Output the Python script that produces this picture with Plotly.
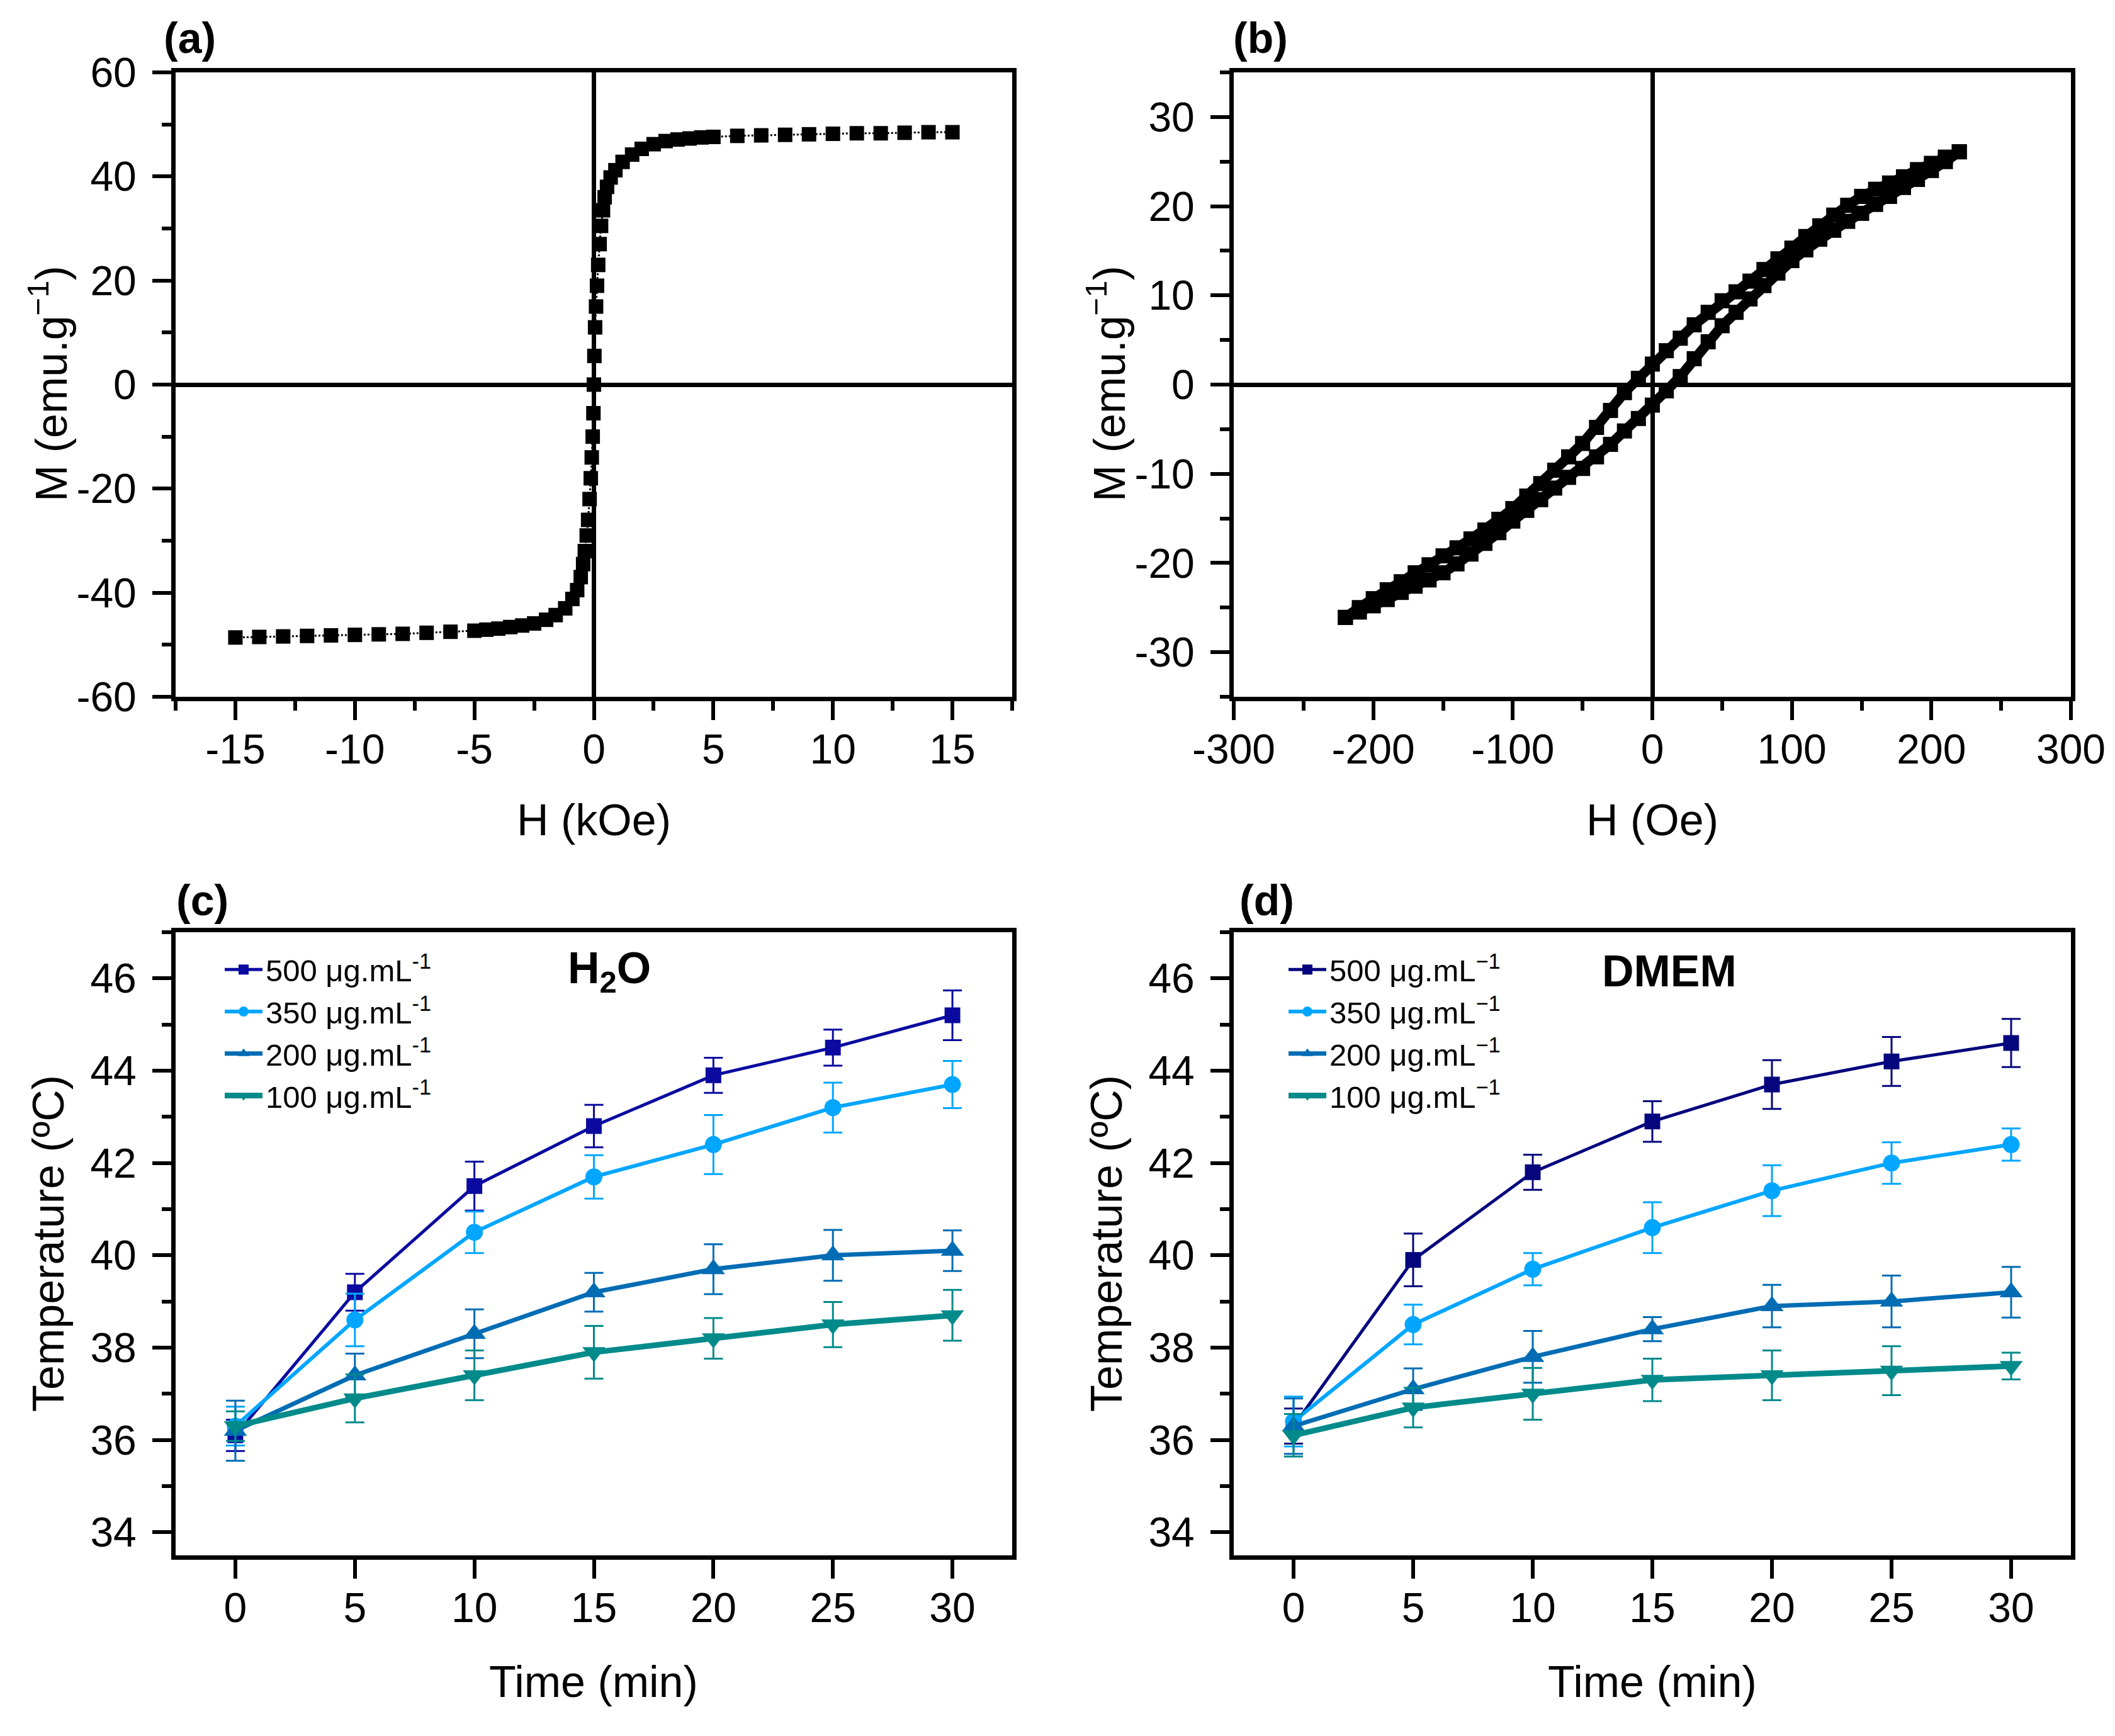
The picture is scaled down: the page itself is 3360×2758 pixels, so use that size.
import plotly.graph_objects as go

# --- data (a): M-H loop at room temperature, field in kOe ---
H_a = [-15, -14, -13, -12, -11, -10, -9, -8, -7, -6, -5, -4.5, -4, -3.5, -3, -2.5, -2, -1.6, -1.2,
       -0.9, -0.7, -0.55, -0.45, -0.38, -0.3, -0.24, -0.18, -0.13, -0.09, -0.05, -0.02, 0,
       0.02, 0.05, 0.09, 0.13, 0.18, 0.24, 0.3, 0.38, 0.45, 0.55, 0.7, 0.9, 1.2, 1.6, 2, 2.5,
       3, 3.5, 4, 4.5, 5, 6, 7, 8, 9, 10, 11, 12, 13, 14, 15]
M_a = [-48.6, -48.5, -48.4, -48.3, -48.2, -48.1, -48.0, -47.9, -47.7, -47.5, -47.3, -47.1, -46.9,
       -46.6, -46.3, -45.9, -45.2, -44.3, -43.0, -41.2, -39.5, -37.0, -34.5, -32.0, -29.0, -26.0,
       -22.0, -18.0, -14.0, -10.0, -5.5, 0.0,
       5.5, 11.0, 15.0, 19.0, 23.0, 27.0, 30.5, 33.5, 36.0, 38.0, 39.8, 41.2, 42.8, 44.2, 45.3,
       46.2, 46.8, 47.1, 47.3, 47.5, 47.6, 47.8, 47.9, 48.0, 48.1, 48.2, 48.3, 48.3, 48.4, 48.5, 48.5]

# --- data (b): minor loop, field in Oe ---
H_b_down = [220, 210, 200, 190, 180, 170, 160, 150, 140, 130, 120, 110, 100, 90, 80, 70, 60, 50,
            40, 30, 20, 10, 0, -10, -20, -30, -40, -50, -60, -70, -80, -90, -100, -110, -120,
            -130, -140, -150, -160, -170, -180, -190, -200, -210, -220]
M_b_down = [26.1, 25.5, 24.8, 24.1, 23.3, 22.6, 21.9, 21.1, 20.1, 19.0, 17.8, 16.6, 15.3, 14.1,
            12.9, 11.6, 10.4, 9.4, 8.1, 6.7, 5.2, 3.8, 2.3, 0.7, -0.9, -2.9, -4.8, -6.6, -8.1,
            -9.6, -11.1, -12.5, -13.9, -15.1, -16.3, -17.3, -18.3, -19.2, -20.2, -21.1, -22.1,
            -23.0, -24.0, -25.0, -26.1]
H_b_up = [-220, -210, -200, -190, -180, -170, -160, -150, -140, -130, -120, -110, -100, -90, -80,
          -70, -60, -50, -40, -30, -20, -10, 0, 10, 20, 30, 40, 50, 60, 70, 80, 90, 100, 110,
          120, 130, 140, 150, 160, 170, 180, 190, 200, 210, 220]
M_b_up = [-26.1, -25.5, -24.8, -24.1, -23.3, -22.6, -21.9, -21.1, -20.1, -19.0, -17.8, -16.6,
          -15.3, -14.1, -12.9, -11.6, -10.4, -9.4, -8.1, -6.7, -5.2, -3.8, -2.3, -0.7, 0.9, 2.9,
          4.8, 6.6, 8.1, 9.6, 11.1, 12.5, 13.9, 15.1, 16.3, 17.3, 18.3, 19.2, 20.2, 21.1, 22.1,
          23.0, 24.0, 25.0, 26.1]

# tick labels (hyphen minus, as in the original figure)
ticks_a_x = [-15, -10, -5, 0, 5, 10, 15]
ticks_a_y = [-60, -40, -20, 0, 20, 40, 60]
ticks_b_x = [-300, -200, -100, 0, 100, 200, 300]
ticks_b_y = [-30, -20, -10, 0, 10, 20, 30]

# --- data (c)/(d): heating curves ---
time_min = [0, 5, 10, 15, 20, 25, 30]
conc_labels = ['500', '350', '200', '100']

h2o_T = {
    '500': [36.1, 39.2, 41.5, 42.8, 43.9, 44.5, 45.2],
    '350': [36.3, 38.6, 40.5, 41.7, 42.4, 43.2, 43.7],
    '200': [36.2, 37.4, 38.3, 39.2, 39.7, 40.0, 40.1],
    '100': [36.3, 36.9, 37.4, 37.9, 38.2, 38.5, 38.7],
}
h2o_err = {
    '500': [0.34, 0.40, 0.53, 0.46, 0.38, 0.39, 0.54],
    '350': [0.42, 0.57, 0.45, 0.47, 0.64, 0.54, 0.51],
    '200': [0.65, 0.47, 0.53, 0.42, 0.54, 0.55, 0.44],
    '100': [0.32, 0.52, 0.54, 0.57, 0.44, 0.49, 0.55],
}
dmem_T = {
    '500': [36.3, 39.9, 41.8, 42.9, 43.7, 44.2, 44.6],
    '350': [36.4, 38.5, 39.7, 40.6, 41.4, 42.0, 42.4],
    '200': [36.3, 37.1, 37.8, 38.4, 38.9, 39.0, 39.2],
    '100': [36.1, 36.7, 37.0, 37.3, 37.4, 37.5, 37.6],
}
dmem_err = {
    '500': [0.38, 0.57, 0.38, 0.44, 0.53, 0.53, 0.52],
    '350': [0.54, 0.43, 0.35, 0.55, 0.55, 0.45, 0.35],
    '200': [0.60, 0.45, 0.56, 0.26, 0.46, 0.56, 0.55],
    '100': [0.46, 0.43, 0.56, 0.46, 0.54, 0.53, 0.29],
}

FONT = 'Liberation Sans, Arial, sans-serif'
W, H = 3360, 2758
OFF = 8  # page body margin of the html


def px_x(p):
    return (p - OFF) / W


def px_y(p):
    return 1 - (p - OFF) / H


colors_c = {'500': '#0A0AA0', '350': '#00A6FF', '200': '#006CB4', '100': '#008A8A'}
colors_d = {'500': '#05057D', '350': '#00A6FF', '200': '#006CB4', '100': '#008A8A'}
symbols = {'500': 'square', '350': 'circle', '200': 'triangle-up', '100': 'triangle-down'}
msizes = {'500': 25, '350': 27, '200': 32, '100': 32}
lwidths = {'500': 5, '350': 6, '200': 7, '100': 9}

fig = go.Figure()

# (a)
fig.add_trace(go.Scatter(x=H_a, y=M_a, mode='lines+markers', xaxis='x', yaxis='y',
                         line=dict(color='black', width=3, dash='dot'),
                         marker=dict(symbol='square', size=23, color='black'),
                         showlegend=False))
# (b)
for hx, my in [(H_b_down, M_b_down), (H_b_up, M_b_up)]:
    fig.add_trace(go.Scatter(x=hx, y=my, mode='lines+markers', xaxis='x2', yaxis='y2',
                             line=dict(color='black', width=16),
                             marker=dict(symbol='square', size=24, color='black'),
                             showlegend=False))

# (c) and (d)
for T, err, cols, xa, ya, leg, minus in [(h2o_T, h2o_err, colors_c, 'x3', 'y3', 'legend', '-'),
                                         (dmem_T, dmem_err, colors_d, 'x4', 'y4', 'legend2', '\u2212')]:
    for k in conc_labels:
        fig.add_trace(go.Scatter(
            x=time_min, y=T[k], mode='lines+markers', xaxis=xa, yaxis=ya,
            name=f'{k} \u03bcg.mL<sup>{minus}1</sup>', legend=leg,
            line=dict(color=cols[k], width=lwidths[k]),
            marker=dict(symbol=symbols[k], size=msizes[k], color=cols[k]),
            error_y=dict(type='data', array=err[k], visible=True, color=cols[k],
                         thickness=3, width=15)))


def axis(dom, anchor, rng, is_x, dtick=None, minor_dtick=None, tick0=0, zero=False, tickvals=None):
    d = dict(domain=dom, anchor=anchor, range=rng, automargin=False,
             showline=True, linewidth=7, linecolor='black', mirror=True,
             ticks='outside', ticklen=30, tickwidth=6, tickcolor='black',
             ticklabelstandoff=-10 if is_x else 12,
             tickfont=dict(family=FONT, size=66, color='black'),
             showgrid=False, zeroline=zero, zerolinecolor='black', zerolinewidth=7)
    if tickvals is not None:
        d.update(tickmode='array', tickvals=tickvals, ticktext=[str(v) for v in tickvals])
    else:
        d.update(tickmode='linear', tick0=tick0, dtick=dtick)
    if minor_dtick:
        d['minor'] = dict(tickmode='linear', tick0=0, dtick=minor_dtick, ticks='outside',
                          ticklen=15, tickwidth=6, tickcolor='black', showgrid=False)
    return d


top_y = [px_y(1107), px_y(115)]
bot_y = [px_y(2471), px_y(1481)]
left_x = [px_x(279), px_x(1608)]
right_x = [px_x(1960), px_x(3290)]

leg_style = dict(xanchor='left', yanchor='top', font=dict(family=FONT, size=49, color='black'),
                 bgcolor='rgba(0,0,0,0)', itemwidth=60, tracegroupgap=0)

fig.update_layout(
    width=W, height=H, margin=dict(l=0, r=0, t=0, b=0, autoexpand=False),
    paper_bgcolor='white', plot_bgcolor='white',
    font=dict(family=FONT, color='black'),
    xaxis=axis(left_x, 'y', [-17.5, 17.5], True, minor_dtick=2.5, zero=True, tickvals=ticks_a_x),
    yaxis=axis(top_y, 'x', [-60, 60], False, minor_dtick=10, zero=True, tickvals=ticks_a_y),
    xaxis2=axis(right_x, 'y2', [-300, 300], True, minor_dtick=50, zero=True, tickvals=ticks_b_x),
    yaxis2=axis(top_y, 'x2', [-35, 35], False, minor_dtick=5, zero=True, tickvals=ticks_b_y),
    xaxis3=axis(left_x, 'y3', [-2.5, 32.5], True, 5),
    yaxis3=axis(bot_y, 'x3', [33.5, 47], False, 2, 1, tick0=34),
    xaxis4=axis(right_x, 'y4', [-2.5, 32.5], True, 5),
    yaxis4=axis(bot_y, 'x4', [33.5, 47], False, 2, 1, tick0=34),
    legend=dict(x=px_x(352), y=px_y(1502), **leg_style),
    legend2=dict(x=px_x(2042), y=px_y(1502), **leg_style),
)

# text labels: panel letters, axis titles, medium names
texts = [
    ('<b>(a)</b>', 301, 60, 68, 0), ('<b>(b)</b>', 2002, 60, 68, 0),
    ('<b>(c)</b>', 321, 1430, 68, 0), ('<b>(d)</b>', 2012, 1430, 68, 0),
    ('H (kOe)', 943, 1303, 70, 0), ('H (Oe)', 2625, 1303, 70, 0),
    ('Time (min)', 943, 2672, 70, 0), ('Time (min)', 2625, 2672, 70, 0),
    ('M (emu.g<sup>\u22121</sup>)', 77, 610, 70, -90),
    ('M (emu.g<sup>\u22121</sup>)', 1758, 610, 70, -90),
    ('Temperature (\u00baC)', 77, 1976, 70, -90),
    ('Temperature (\u00baC)', 1758, 1976, 70, -90),
    ('<b>H<sub>2</sub>O</b>', 968, 1543, 70, 0),
    ('<b>DMEM</b>', 2652, 1543, 70, 0),
]
for txt, px_, py_, size, ang in texts:
    fig.add_annotation(text=txt, x=px_x(px_), y=px_y(py_), xref='paper', yref='paper',
                       xanchor='center', yanchor='middle', showarrow=False, textangle=ang,
                       font=dict(family=FONT, size=size, color='black'))

fig.write_html("out.html")
